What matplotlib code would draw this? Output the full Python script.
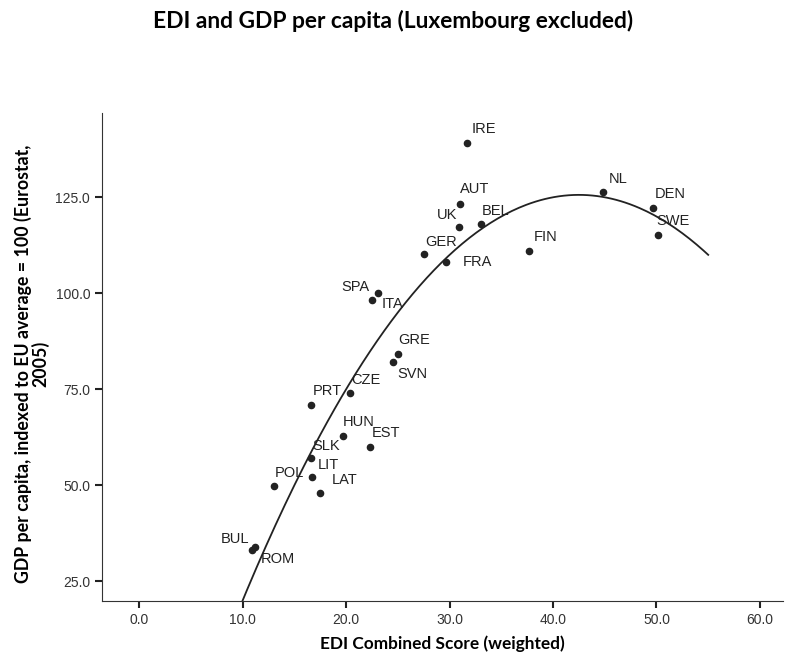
import numpy as np
import matplotlib
matplotlib.use("Agg")
import matplotlib.pyplot as plt

# country codes and values
countries = ["IRE", "AUT", "UK", "BEL", "GER", "FRA", "FIN", "NL", "DEN", "SWE",
             "SPA", "ITA", "GRE", "SVN", "CZE", "PRT", "HUN", "EST", "SLK", "LIT",
             "POL", "LAT", "BUL", "ROM"]
edi = [31.7, 31.0, 30.9, 33.0, 27.5, 29.7, 37.7, 44.8, 49.7, 50.1,
       23.1, 22.5, 25.0, 24.5, 20.4, 16.6, 19.7, 22.3, 16.6, 16.7,
       13.0, 17.5, 11.2, 10.9]
gdp = [139.2, 123.3, 117.2, 118.1, 110.1, 108.2, 111.1, 126.4, 122.2, 115.1,
       100.1, 98.2, 84.2, 82.1, 73.9, 71.0, 62.8, 60.0, 57.0, 52.1,
       49.9, 48.0, 33.9, 33.0]

# label offsets in points (dx, dy, horizontal alignment)
offsets = {
    "IRE": (3, 10, "left"), "AUT": (0, 11, "left"), "UK": (-1, 9, "right"),
    "BEL": (1, 9, "left"), "GER": (1, 9, "left"), "FRA": (12, 0, "left"),
    "FIN": (3, 10, "left"), "NL": (4, 9, "left"), "DEN": (1, 10, "left"),
    "SWE": (-1, 10, "left"), "SPA": (-6, 4, "right"), "ITA": (7, -3, "left"),
    "GRE": (0, 10, "left"), "SVN": (3, -9, "left"), "CZE": (1, 10, "left"),
    "PRT": (1, 10, "left"), "HUN": (0, 10, "left"), "EST": (1, 10, "left"),
    "SLK": (1, 9, "left"), "LIT": (4, 9, "left"), "POL": (1, 9, "left"),
    "LAT": (8, 9, "left"), "BUL": (-4, 6, "right"), "ROM": (6, -6, "left"),
}

# quadratic fit line, coefficients
fit_coef = [-0.1, 8.5, -55.0]
fit_x = np.linspace(9.5, 55.0, 200)
fit_y = np.polyval(fit_coef, fit_x)

plain = ["Liberation Sans", "DejaVu Sans"]
bold = ["Lato", "DejaVu Sans"]

fig = plt.figure(figsize=(7.86, 6.53), dpi=100)
ax = fig.add_axes([0.1298, 0.0796, 0.866, 0.747])

ax.plot(fit_x, fit_y, color="#222222", lw=1.3)
ax.scatter(edi, gdp, s=20, color="#222222", zorder=3)

for c, x, y in zip(countries, edi, gdp):
    dx, dy, ha = offsets[c]
    ax.annotate(c, (x, y), xytext=(dx, dy), textcoords="offset points",
                ha=ha, va="center", fontsize=10.5, family=plain, color="#222222")

ax.set_xlim(-3.6, 62.2)
ax.set_ylim(19.8, 146.9)
ax.set_xticks(range(0, 61, 10))
ax.set_yticks([25, 50, 75, 100, 125])
ax.xaxis.set_major_formatter(matplotlib.ticker.FormatStrFormatter("%.1f"))
ax.yaxis.set_major_formatter(matplotlib.ticker.FormatStrFormatter("%.1f"))
ax.tick_params(direction="out", length=5, width=1.5, color="#222222",
               labelsize=10, labelcolor="#333333")
for lab in ax.get_xticklabels() + ax.get_yticklabels():
    lab.set_family(plain)

ax.spines["top"].set_visible(False)
ax.spines["right"].set_visible(False)
ax.spines["left"].set_color("#333333")
ax.spines["bottom"].set_color("#333333")

ax.set_xlabel("EDI Combined Score (weighted)", fontsize=12.4, fontweight="bold",
              family=bold, labelpad=6)
ax.set_ylabel("GDP per capita, indexed to EU average = 100 (Eurostat,\n2005)",
              fontsize=12.8, fontweight="bold", family=bold,
              linespacing=0.95)
ax.yaxis.set_label_coords(-0.078, 0.486)

fig.text(0.5, 0.968, "EDI and GDP per capita (Luxembourg excluded)",
         ha="center", va="center", fontsize=16.4, fontweight="bold", family=bold)

fig.savefig("out.png", dpi=100)
